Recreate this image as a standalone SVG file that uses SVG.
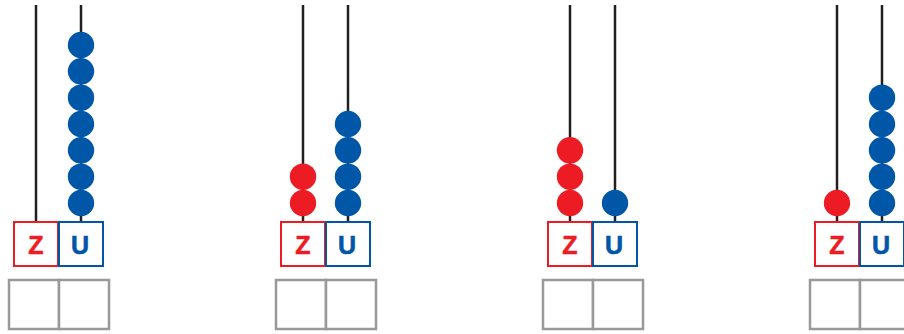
<svg xmlns="http://www.w3.org/2000/svg" width="904" height="334" viewBox="0 0 904 334">
<defs>
<style>
.rod{stroke:#231f20;stroke-width:2.5}
.r{fill:#ed1c24}
.b{fill:#0057a8}
.zb{fill:#fff;stroke:#ed1c24;stroke-width:2}
.ub{fill:#fff;stroke:#0057a8;stroke-width:2}
.gb{fill:#fff;stroke:#999;stroke-width:2.5}
.zt{fill:#ed1c24;font-family:'Liberation Sans',Arial,sans-serif;font-weight:bold;font-size:25px;text-anchor:middle;stroke:#ed1c24;stroke-width:0.6}
.ut{fill:#0057a8;font-family:'Liberation Sans',Arial,sans-serif;font-weight:bold;font-size:25px;text-anchor:middle;stroke:#0057a8;stroke-width:0.6}
</style>
<g id="abacus">
<line class="rod" x1="36" y1="5" x2="36" y2="222"/>
<line class="rod" x1="81" y1="5" x2="81" y2="222"/>
<rect class="zb" x="14" y="222" width="44" height="44"/>
<rect class="ub" x="59" y="222" width="44" height="44"/>
<text class="zt" x="36" y="253.5">Z</text>
<text class="ut" x="80" y="253.5">U</text>
<rect class="gb" x="9" y="280" width="50" height="49"/>
<rect class="gb" x="59" y="280" width="50" height="49"/>
</g>
</defs>
<g id="panel1">
<use href="#abacus"/>
<g class="b">
<circle cx="81" cy="45" r="13.2"/><circle cx="81" cy="71.3" r="13.2"/><circle cx="81" cy="97.7" r="13.2"/><circle cx="81" cy="124" r="13.2"/><circle cx="81" cy="150.3" r="13.2"/><circle cx="81" cy="176.7" r="13.2"/><circle cx="81" cy="203" r="13.2"/>
</g>
</g>
<g id="panel2" transform="translate(267,0)">
<use href="#abacus"/>
<g class="r"><circle cx="36" cy="176.7" r="13.2"/><circle cx="36" cy="203" r="13.2"/></g>
<g class="b"><circle cx="81" cy="124" r="13.2"/><circle cx="81" cy="150.3" r="13.2"/><circle cx="81" cy="176.7" r="13.2"/><circle cx="81" cy="203" r="13.2"/></g>
</g>
<g id="panel3" transform="translate(534,0)">
<use href="#abacus"/>
<g class="r"><circle cx="36" cy="150.3" r="13.2"/><circle cx="36" cy="176.7" r="13.2"/><circle cx="36" cy="203" r="13.2"/></g>
<g class="b"><circle cx="81" cy="203" r="13.2"/></g>
</g>
<g id="panel4" transform="translate(801,0)">
<use href="#abacus"/>
<g class="r"><circle cx="36" cy="203" r="13.2"/></g>
<g class="b"><circle cx="81" cy="97.7" r="13.2"/><circle cx="81" cy="124" r="13.2"/><circle cx="81" cy="150.3" r="13.2"/><circle cx="81" cy="176.7" r="13.2"/><circle cx="81" cy="203" r="13.2"/></g>
</g>
</svg>
